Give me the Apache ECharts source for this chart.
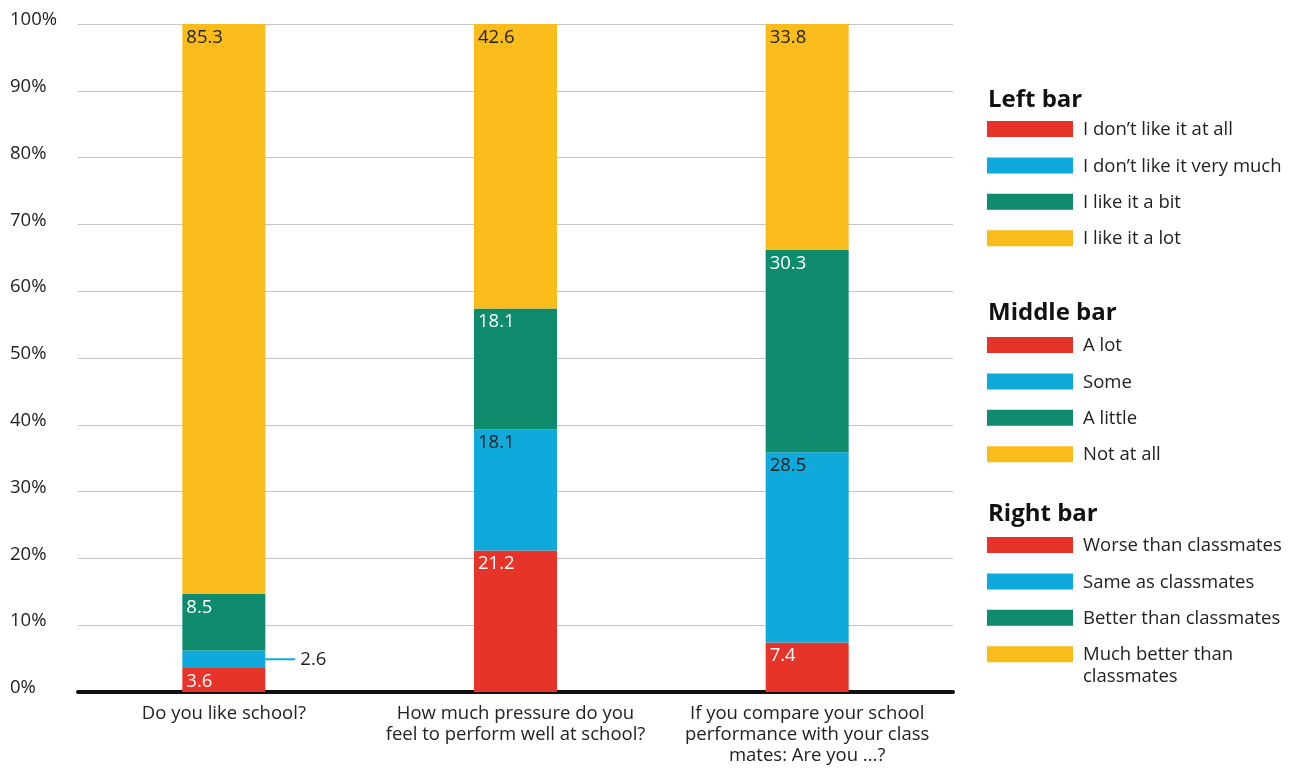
<!DOCTYPE html>
<html>
<head>
<meta charset="utf-8">
<script src="https://cdn.jsdelivr.net/npm/echarts@6/dist/echarts.min.js"></script>
<style>html,body{margin:0;padding:0;background:#fff}#c{width:1298px;height:769px}</style>
</head>
<body>
<div id="c"></div>
<script>
var categories = ["Do you like school?", "How much pressure do you\nfeel to perform well at school?", "If you compare your school\nperformance with your class\nmates: Are you ...?"];
var redValues = [3.6, 21.2, 7.4];
var blueValues = [2.6, 18.1, 28.5];
var greenValues = [8.5, 18.1, 30.3];
var yellowValues = [85.3, 42.6, 33.8];
var seriesNames = ["Red", "Blue", "Green", "Yellow"];
var colors = ["#e7342b", "#0fa9dc", "#0e8b6c", "#f9bc1b"];
var labelColors = ["#ffffff", "#222222", "#ffffff", "#222222"];
var legendTitles = ["Left bar", "Middle bar", "Right bar"];
var leftLegend = ["I don\u2019t like it at all", "I don\u2019t like it very much", "I like it a bit", "I like it a lot"];
var middleLegend = ["A lot", "Some", "A little", "Not at all"];
var rightLegend = ["Worse than classmates", "Same as classmates", "Better than classmates", "Much better than\nclassmates"];

var FONT = "'Open Sans', 'Noto Sans', sans-serif";
var FS = 18.5;
var chart = echarts.init(document.getElementById('c'));
var allValues = [redValues, blueValues, greenValues, yellowValues];

var series = allValues.map(function (vals, i) {
  return {
    name: seriesNames[i],
    type: 'bar',
    stack: 'total',
    barWidth: 83,
    itemStyle: { color: colors[i] },
    label: {
      show: true,
      position: 'insideTopLeft',
      distance: 4,
      color: labelColors[i],
      fontFamily: FONT,
      fontSize: FS
    },
    data: vals.map(function (v, j) {
      if (i === 1 && j === 0) {
        return {
          value: v,
          label: {
            position: 'right',
            distance: 0,
            formatter: '{l|}{t|{c}}',
            rich: {
              l: { width: 30, height: 2, backgroundColor: colors[1] },
              t: { color: '#222', fontFamily: FONT, fontSize: FS, padding: [0, 0, 0, 5] }
            }
          }
        };
      }
      return v;
    })
  };
});

var graphics = [];
var groups = [leftLegend, middleLegend, rightLegend];
var titleY = [98, 311, 512];
var rowStart = [129, 345, 545];
var rowStep = 36.4;
groups.forEach(function (items, g) {
  graphics.push({
    type: 'text', left: 988, top: titleY[g] - 10,
    style: { text: legendTitles[g], font: 'bold 24px ' + FONT, fill: '#111' }
  });
  items.forEach(function (name, k) {
    var cy = rowStart[g] + k * rowStep;
    graphics.push({
      type: 'rect', shape: { x: 987, y: cy - 8, width: 86, height: 16 },
      style: { fill: colors[k] }
    });
    graphics.push({
      type: 'text', x: 1083, y: cy - 10,
      style: { text: name, font: FS + 'px ' + FONT, fill: '#222', lineHeight: 22 }
    });
  });
});

chart.setOption({
  animation: false,
  grid: { left: 78, right: 345, top: 24, bottom: 77 },
  xAxis: {
    type: 'category',
    data: categories,
    axisTick: { show: false },
    axisLine: { lineStyle: { color: '#111', width: 4 } },
    axisLabel: { interval: 0, margin: 11, color: '#222', fontFamily: FONT, fontSize: FS, lineHeight: 21 }
  },
  yAxis: {
    type: 'value',
    min: 0, max: 100, interval: 10,
    axisLine: { show: false },
    axisTick: { show: false },
    splitLine: { lineStyle: { color: '#c4c4c4', width: 1 } },
    axisLabel: {
      formatter: '{value}%', align: 'left', verticalAlign: 'bottom', lineHeight: 8, margin: 68,
      color: '#222', fontFamily: FONT, fontSize: FS
    }
  },
  series: series,
  graphic: graphics
});
</script>
</body>
</html>
